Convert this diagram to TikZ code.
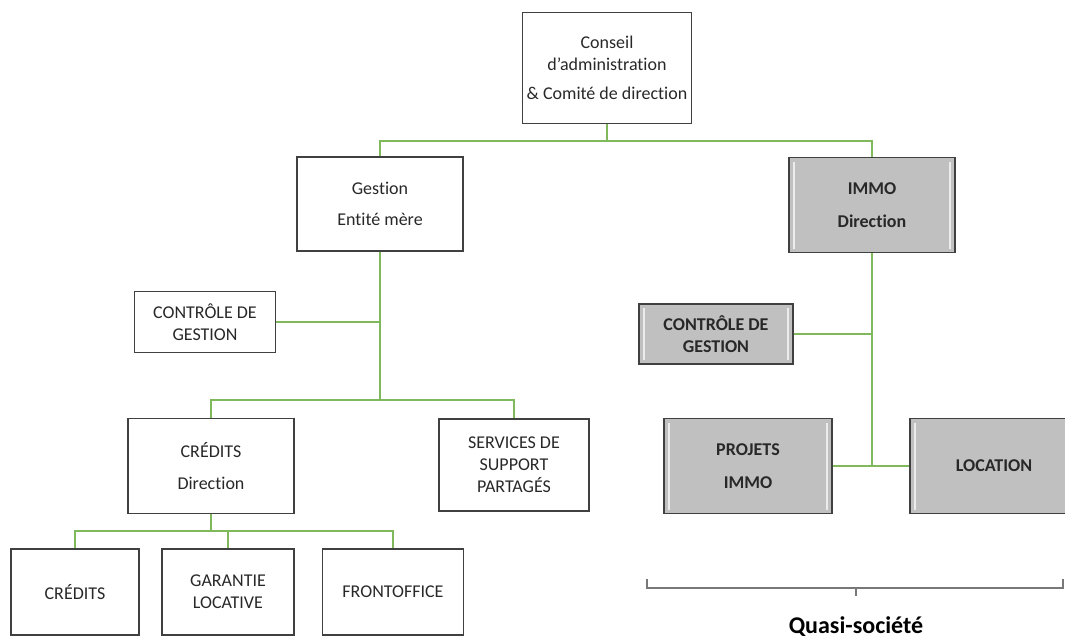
\documentclass[tikz,border=0pt]{standalone}
\usepackage{fontspec}
\setmainfont{Carlito}[Ligatures=NoCommon]
\usepackage{tikz}
\usetikzlibrary{positioning}
\usepackage{xcolor}
\definecolor{linkgreen}{RGB}{128,184,92}
\definecolor{boxgrey}{RGB}{192,192,192}
\definecolor{boxedge}{RGB}{64,64,64}
\definecolor{bracegrey}{RGB}{120,120,120}
\definecolor{textgrey}{RGB}{40,40,40}

\begin{document}
\begin{tikzpicture}[x=0.75pt, y=-0.75pt,
  box/.style={draw=boxedge, line width=0.8pt, align=center, inner sep=0pt, text=textgrey,
    font=\fontsize{13.5}{16.5}\selectfont},
  greybox/.style={box, fill=boxgrey, line width=1pt,
    font=\fontsize{13.5}{16.5}\selectfont\bfseries,
    path picture={
      \draw[white, line width=1.6pt, opacity=.7]
        ([shift={(4pt,-3pt)}]path picture bounding box.north west) -- ([shift={(4pt,3pt)}]path picture bounding box.south west);
      \draw[white, line width=1.6pt, opacity=.7]
        ([shift={(-4pt,-3pt)}]path picture bounding box.north east) -- ([shift={(-4pt,3pt)}]path picture bounding box.south east);
    }},
  link/.style={draw=linkgreen, line width=1.3pt}]
    \useasboundingbox (0,0) rectangle (1065,637);

    \node[box, minimum width=126.75pt, minimum height=83.25pt] (conseil) at (607,68)
      {Conseil\\d’administration\\[5pt]\& Comité de direction};
    \node[box, minimum width=124.5pt, minimum height=70.5pt] (gestion) at (380,204)
      {Gestion\\[7pt]Entité mère};
    \node[box, minimum width=105.75pt, minimum height=45.75pt] (ctrlgestion) at (205,322)
      {CONTRÔLE DE\\GESTION};
    \node[box, minimum width=124.5pt, minimum height=71.25pt] (creditsdir) at (211,466)
      {CRÉDITS\\[7pt]Direction};
    \node[box, minimum width=112.5pt, minimum height=69pt] (services) at (514,465)
      {SERVICES DE\\SUPPORT\\PARTAGÉS};
    \node[box, minimum width=96pt, minimum height=64.5pt] (credits) at (75,592) {CRÉDITS};
    \node[box, minimum width=99pt, minimum height=64.5pt] (garantie) at (228,592)
      {GARANTIE\\LOCATIVE};
    \node[box, minimum width=105.75pt, minimum height=64.5pt] (frontoffice) at (393,592) {FRONTOFFICE};

    \node[greybox, minimum width=124.5pt, minimum height=71.25pt] (immo) at (872,205)
      {IMMO\\[8pt]Direction};
    \node[greybox, minimum width=115.5pt, minimum height=45pt] (ctrlimmo) at (716,334)
      {CONTRÔLE DE\\GESTION};
    \node[greybox, minimum width=126pt, minimum height=71.25pt] (projets) at (748,466)
      {PROJETS\\[8pt]IMMO};
    \node[greybox, minimum width=126pt, minimum height=71.25pt] (location) at (994,466) {LOCATION};

    \coordinate (topbus) at (607,141);
    \coordinate (gestbus) at (380,400);
    \coordinate (creditbus) at (211,531);
    \coordinate (immobus) at (872,466);

    \draw[link] (conseil.south) -- (topbus);
    \draw[link] (topbus) -| (gestion.north);
    \draw[link] (topbus) -| (immo.north);
    \draw[link] (gestion.south) -- (gestbus);
    \draw[link] (ctrlgestion.east) -- (ctrlgestion.east -| gestbus);
    \draw[link] (gestbus) -| (creditsdir.north);
    \draw[link] (gestbus) -| (services.north);
    \draw[link] (creditsdir.south) -- (creditbus);
    \draw[link] (creditbus) -| (credits.north);
    \draw[link] (creditbus) -| (garantie.north);
    \draw[link] (creditbus) -| (frontoffice.north);
    \draw[link] (immo.south) -- (immobus);
    \draw[link] (ctrlimmo.east) -- (ctrlimmo.east -| immobus);
    \draw[link] (projets.east) -- (location.west);

    \draw[bracegrey, line width=1.5pt] (647,579) -- (647,588) -- (1063,588) -- (1063,579);
    \draw[bracegrey, line width=1.5pt] (856,588) -- (856,596);
    \node[anchor=base, font=\fontsize{18}{20}\selectfont\bfseries] (quasi) at (856,633) {Quasi-société};
\end{tikzpicture}
\end{document}
